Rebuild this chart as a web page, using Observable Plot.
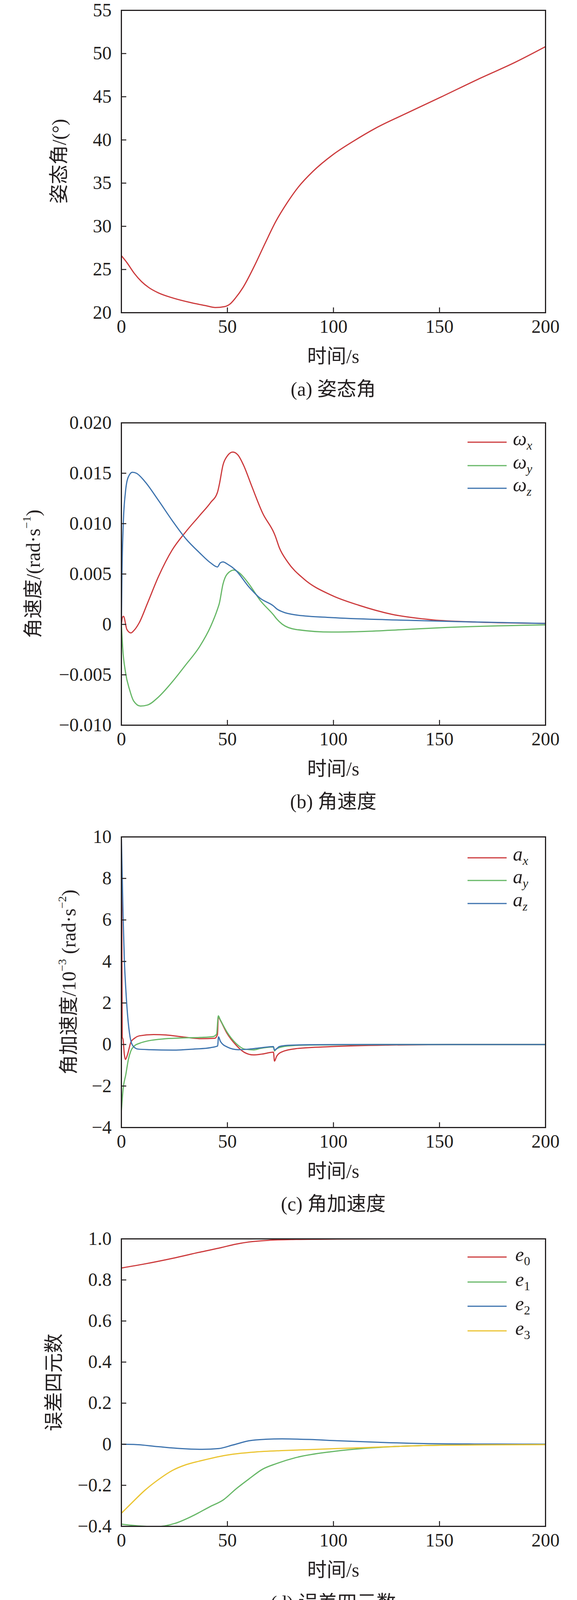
<!DOCTYPE html>
<html><head><meta charset="utf-8">
<script src="https://cdn.jsdelivr.net/npm/d3@7"></script>
<script src="https://cdn.jsdelivr.net/npm/@observablehq/plot@0.6"></script>
<style>
body{margin:0;background:#fff;}
#fig{position:relative;width:1476px;height:4138px;background:#fff;overflow:hidden;}
.panel{position:absolute;left:0;}
#fig svg text{font-family:'Liberation Serif','Noto Sans CJK SC',serif;}
#overlay{position:absolute;left:0;top:0;pointer-events:none;z-index:5;}
</style></head><body><div id="fig"></div>
<script>
// ---------- shared axis data ----------
const xTicks = [0, 50, 100, 150, 200];
const xTickLabels = ["0", "50", "100", "150", "200"];

// ---------- (a) attitude angle ----------
const attT = [0, 2.6, 6.1, 9.5, 13, 17.4, 24.3, 33, 40, 44.3, 48.6, 51.2, 53.8, 57.3, 62.5, 67.7, 72.9, 78.1, 83.3, 90.3, 99.8, 109.4, 119.8, 133.7, 151, 168.4, 185.8, 200];
const attV = [26.6, 25.8, 24.55, 23.6, 22.9, 22.3, 21.7, 21.15, 20.8, 20.6, 20.7, 21.0, 21.7, 22.9, 25.3, 28.0, 30.6, 32.7, 34.5, 36.35, 38.3, 39.85, 41.35, 43.0, 45.0, 47.05, 49.0, 50.8];
const aTicks = [20, 25, 30, 35, 40, 45, 50, 55];
const aTickLabels = ["20", "25", "30", "35", "40", "45", "50", "55"];

// ---------- (b) angular velocity ----------
const wxT = [0, 0.5, 1, 2.6, 4.5, 5.8, 8.4, 12.3, 17.5, 24, 30.4, 36.9, 42.1, 45.3, 46.2, 47.9, 49.9, 52.5, 55, 57.6, 61.5, 66.7, 71.9, 72.5, 74.5, 78.4, 86.1, 99, 112, 127.6, 147, 166.5, 200];
const wxV = [0, 0.0007, 0.0008, -0.0005, -0.00084, -0.00063, 0.00016, 0.0021, 0.00475, 0.0074, 0.0092, 0.0108, 0.0121, 0.0131, 0.0139, 0.0158, 0.0167, 0.0171, 0.0168, 0.0158, 0.0137, 0.0110, 0.0091, 0.0088, 0.0076, 0.0062, 0.0045, 0.0029, 0.0019, 0.0010, 0.00045, 0.00024, 0.0001];
const wyT = [0, 0.6, 1.9, 3.9, 5.8, 9, 12.3, 17.5, 24, 30.4, 36.9, 42.1, 45.3, 46.2, 47.9, 49.9, 53.1, 55.7, 60.2, 65.4, 71.9, 73.2, 75.8, 82.3, 99, 114.6, 134, 153.5, 200];
const wyV = [0, -0.0023, -0.0047, -0.0065, -0.0076, -0.0081, -0.0080, -0.0072, -0.0057, -0.0040, -0.0022, -0.0002, 0.0015, 0.0021, 0.0040, 0.0050, 0.0054, 0.0051, 0.0040, 0.0024, 0.0009, 0.00055, 0.00003, -0.0005, -0.00076, -0.0007, -0.0005, -0.0003, -0.00005];
const wzT = [0, 0.26, 0.9, 1.9, 3.2, 5.2, 7.1, 11, 17.5, 24, 30.4, 36.9, 42.1, 45.3, 46.6, 47.9, 49.9, 53.8, 60.2, 65.4, 71.9, 73.2, 75.8, 82.3, 99, 127.6, 166.5, 200];
const wzV = [0, 0.0047, 0.0100, 0.0131, 0.0146, 0.0151, 0.0150, 0.0142, 0.0123, 0.0103, 0.0085, 0.0071, 0.0061, 0.0057, 0.0061, 0.0062, 0.0060, 0.0054, 0.0037, 0.0026, 0.0018, 0.00155, 0.00126, 0.00094, 0.00068, 0.00045, 0.00024, 0.0001];
const bTicks = [-0.010, -0.005, 0, 0.005, 0.010, 0.015, 0.020];
const bTickLabels = ["\u22120.010", "\u22120.005", "0", "0.005", "0.010", "0.015", "0.020"];

// ---------- (c) angular acceleration (x10^-3) ----------
const axT = [0, 0.15, 0.4, 0.8, 1.4, 1.9, 2.9, 4.5, 6.2, 8.6, 15.2, 21, 29.2, 37.5, 44, 45.3, 45.7, 46.5, 49.8, 54, 58, 62.2, 66.3, 71.7, 72.2, 73.2, 75.8, 82.3, 99, 127.7, 155, 200];
const axV = [7.8, 7.5, 0.36, 0.24, -0.48, -0.72, -0.48, 0.12, 0.30, 0.42, 0.48, 0.46, 0.36, 0.28, 0.30, 0.48, 1.34, 1.2, 0.54, -0.02, -0.38, -0.5, -0.46, -0.37, -0.8, -0.57, -0.35, -0.2, -0.1, -0.025, 0, 0];
const ayT = [0, 0.8, 2.1, 3.3, 4.5, 6.2, 8.6, 12.8, 21, 29.2, 37.5, 43.2, 44.9, 45.7, 46.5, 49.8, 54, 58, 62.2, 65.5, 71.7, 72.2, 73.2, 78.4, 88.8, 120, 200];
const ayV = [-3.2, -2.16, -1.44, -0.72, -0.3, -0.06, 0.06, 0.18, 0.28, 0.32, 0.34, 0.38, 0.5, 1.38, 1.22, 0.6, 0.06, -0.22, -0.26, -0.19, -0.12, -0.31, -0.2, -0.07, -0.025, 0, 0];
const azT = [0, 0.8, 1.4, 2.1, 2.9, 4.1, 5.4, 7.8, 13.6, 24, 34.3, 42.1, 45.4, 45.8, 46.7, 49.9, 55.1, 60.3, 65.5, 71.7, 72.2, 74.5, 78.4, 88.8, 110, 200];
const azV = [10, 6.2, 4.08, 2.64, 1.44, 0.36, -0.06, -0.22, -0.25, -0.27, -0.22, -0.15, -0.07, 0.37, 0.15, -0.12, -0.25, -0.22, -0.16, -0.1, -0.27, -0.1, -0.04, -0.01, 0, 0];
const cTicks = [-4, -2, 0, 2, 4, 6, 8, 10];
const cTickLabels = ["\u22124", "\u22122", "0", "2", "4", "6", "8", "10"];

// ---------- (d) error quaternion ----------
const e0T = [0, 11, 24, 36.9, 47.3, 53.8, 60.3, 69.3, 82.3, 101.7, 130, 200];
const e0V = [0.858, 0.878, 0.905, 0.935, 0.958, 0.974, 0.985, 0.993, 0.997, 0.999, 1.0, 1.0];
const e1T = [0, 8.6, 16.9, 25.1, 33.4, 41.6, 48.2, 54, 60.3, 66.5, 73.2, 82.3, 99.2, 114.7, 127.7, 153.6, 200];
const e1V = [-0.389, -0.398, -0.401, -0.386, -0.35, -0.305, -0.27, -0.218, -0.168, -0.122, -0.094, -0.065, -0.036, -0.02, -0.012, -0.004, 0];
const e2T = [0, 5.8, 17.5, 27.9, 38.2, 46, 52.5, 60.3, 68, 75.8, 88.8, 101.7, 121.2, 140.6, 166.5, 200];
const e2V = [0, -0.001, -0.012, -0.021, -0.025, -0.021, -0.004, 0.017, 0.024, 0.026, 0.023, 0.017, 0.0095, 0.0036, 0.001, 0];
const e3T = [0, 4.5, 11, 17.5, 24, 30.4, 36.9, 43.4, 49.9, 56.4, 62.9, 75.8, 88.8, 101.7, 121.2, 140.6, 166.5, 200];
const e3V = [-0.336, -0.29, -0.225, -0.172, -0.128, -0.1, -0.082, -0.066, -0.053, -0.044, -0.038, -0.031, -0.026, -0.021, -0.014, -0.007, -0.0036, -0.002];
const dTicks = [-0.4, -0.2, 0, 0.2, 0.4, 0.6, 0.8, 1.0];
const dTickLabels = ["\u22120.4", "\u22120.2", "0", "0.2", "0.4", "0.6", "0.8", "1.0"];

// ---------- styling ----------
const INK = "#231f20";
const RED = "#cc3a3c", GREEN = "#66b766", BLUE = "#3d73ae", YELLOW = "#ebc431";
const SERIF = "'Liberation Serif','Noto Sans CJK SC',serif";
const W = 1476, ML = 310, MR = 81, MT = 26, MB = 240;

function rows(name, ts, vs) { return ts.map((t, i) => ({s: name, t, v: vs[i]})); }

const panels = [
  {top: 26, bottom: 800, domain: [20, 55], ticks: aTicks, labels: aTickLabels,
   series: [{name: "att", t: attT, v: attV, color: RED}],
   ylabel: [["姿态角/(°)"]], ylx: 151, caption: "(a) 姿态角", legend: null},
  {top: 1082, bottom: 1856, domain: [-0.010, 0.020], ticks: bTicks, labels: bTickLabels,
   series: [{name: "wx", t: wxT, v: wxV, color: RED}, {name: "wy", t: wyT, v: wyV, color: GREEN}, {name: "wz", t: wzT, v: wzV, color: BLUE}],
   ylabel: [["角速度/(rad·s"], ["\u22121", "sup"], [")"]], ylx: 85, caption: "(b) 角速度",
   legend: {main: "ω", subs: ["x", "y", "z"], subItalic: true, ys: [1132, 1192, 1250], tx: 1312, dbase: 8}},
  {top: 2142, bottom: 2886, domain: [-4, 10], ticks: cTicks, labels: cTickLabels,
   series: [{name: "ax", t: axT, v: axV, color: RED}, {name: "ay", t: ayT, v: ayV, color: GREEN}, {name: "az", t: azT, v: azV, color: BLUE}],
   ylabel: [["角加速度/10"], ["\u22123", "sup"], [" (rad·s"], ["\u22122", "sup"], [")"]], ylx: 176, caption: "(c) 角加速度",
   legend: {main: "a", subs: ["x", "y", "z"], subItalic: true, ys: [2196, 2254, 2313], tx: 1312, dbase: 7}},
  {top: 3171, bottom: 3907, domain: [-0.4, 1.0], ticks: dTicks, labels: dTickLabels,
   series: [{name: "e0", t: e0T, v: e0V, color: RED}, {name: "e1", t: e1T, v: e1V, color: GREEN}, {name: "e2", t: e2T, v: e2V, color: BLUE}, {name: "e3", t: e3T, v: e3V, color: YELLOW}],
   ylabel: [["误差四元数"]], ylx: 138, caption: "(d) 误差四元数",
   legend: {main: "e", subs: ["0", "1", "2", "3"], subItalic: false, ys: [3218, 3282, 3344, 3407], tx: 1318, dbase: 10}}
];

const fig = document.getElementById("fig");

panels.forEach(p => {
  const lineMarks = p.series.map(s => Plot.line(rows(s.name, s.t, s.v), {
    x: "t", y: "v", stroke: s.color, strokeWidth: 3, curve: "monotone-x", clip: true
  }));
  const chart = Plot.plot({
    width: W,
    height: MT + (p.bottom - p.top) + MB,
    marginLeft: ML, marginRight: MR, marginTop: MT, marginBottom: MB,
    style: `font-family: ${SERIF}; font-size: 48px; color: ${INK}; background: transparent; overflow: visible;`,
    x: {domain: [0, 200], label: null},
    y: {domain: p.domain, label: null},
    marks: [
      ...lineMarks,
      Plot.axisX(xTicks, {tickSize: -13, tickPadding: 30, strokeWidth: 2.5, fontSize: 48, fontFamily: SERIF,
        tickFormat: d => xTickLabels[xTicks.indexOf(d)], label: null}),
      Plot.axisY(p.ticks, {tickSize: -13, tickPadding: 38, strokeWidth: 2.5, fontSize: 48, fontFamily: SERIF,
        tickFormat: d => p.labels[p.ticks.indexOf(d)], label: null}),
      Plot.frame({stroke: INK, strokeWidth: 3})
    ]
  });
  chart.classList.add("panel");
  chart.style.position = "absolute";
  chart.style.left = "0px";
  chart.style.top = (p.top - MT) + "px";
  fig.appendChild(chart);
});

// ---------- overlay text: axis titles, captions, legends ----------
const ov = d3.select(fig).append("svg").attr("id", "overlay")
  .attr("width", W).attr("height", 4138)
  .style("font-family", SERIF).style("fill", INK);
const cx = (ML + (W - MR)) / 2;

panels.forEach(p => {
  const cy = (p.top + p.bottom) / 2;
  const yl = ov.append("text")
    .attr("transform", `translate(${p.ylx},${cy}) rotate(-90)`)
    .attr("text-anchor", "middle").attr("dominant-baseline", "central")
    .attr("font-size", 50);
  p.ylabel.forEach(([txt, kind], i) => {
    const ts = yl.append("tspan").text(txt);
    if (kind === "sup") ts.attr("font-size", 30).attr("dy", -18);
    else if (i > 0 && p.ylabel[i - 1][1] === "sup") ts.attr("dy", 18);
  });
  ov.append("text").attr("x", cx).attr("y", p.bottom + 112)
    .attr("text-anchor", "middle").attr("dominant-baseline", "central")
    .attr("font-size", 50).text("时间/s");
  ov.append("text").attr("x", cx).attr("y", p.bottom + 196)
    .attr("text-anchor", "middle").attr("dominant-baseline", "central")
    .attr("font-size", 50).text(p.caption);
  if (p.legend) {
    const L = p.legend;
    L.ys.forEach((y, i) => {
      const col = p.series[i].color;
      ov.append("line").attr("x1", 1196).attr("x2", 1296).attr("y1", y).attr("y2", y)
        .attr("stroke", col).attr("stroke-width", 3);
      const t = ov.append("text").attr("x", L.tx).attr("y", y + L.dbase).attr("font-size", 50);
      t.append("tspan").attr("font-style", "italic").text(L.main);
      t.append("tspan").attr("font-size", 32).attr("dy", 11)
        .attr("font-style", L.subItalic ? "italic" : "normal").text(L.subs[i]);
    });
  }
});
</script>
</body></html>
